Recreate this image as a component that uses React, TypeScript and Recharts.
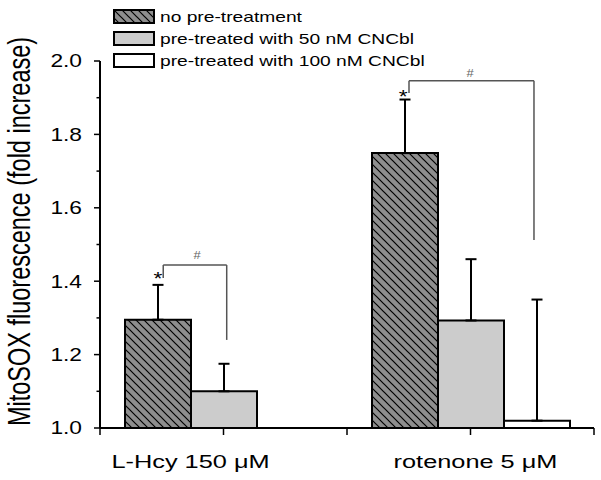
import React from 'react';
import { BarChart, Bar, XAxis, YAxis, ErrorBar, ReferenceLine, ReferenceDot } from 'recharts';

// ---- data ----
const categories = ['L-Hcy 150 \u03bcM', 'rotenone 5 \u03bcM'];
const categoryPos = [0.5, 1.5];
const seriesNames = ['no pre-treatment', 'pre-treated with 50 nM CNCbl', 'pre-treated with 100 nM CNCbl'];
const noPre = [1.295, 1.749];
const pre50 = [1.1, 1.293];
const pre100: (number | null)[] = [null, 1.02];
const noPreErr = [0.095, 0.146];
const pre50Err = [0.075, 0.167];
const pre100Err: (number | null)[] = [null, 0.33];
const yTicks = [1.0, 1.1, 1.2, 1.3, 1.4, 1.5, 1.6, 1.7, 1.8, 1.9, 2.0];
const xTicks = [0, 0.5, 1, 1.5, 2];
const yLabel = 'MitoSOX fluorescence (fold increase)';

// significance annotations (data units)
const bracketX1 = [0.256, 1.251];
const bracketX2 = [0.513, 1.757];
const bracketTop = [1.444, 1.946];
const bracketLeftEnd = [1.409, 1.913];
const bracketRightEnd = [1.24, 1.512];
const starX = [0.235, 1.227];
const starY = [1.417, 1.913];
const hashX = [0.393, 1.498];
const hashY = [1.469, 1.965];
const catLabelShift = [-33, 5];

const data = categories.map((name, i) => ({
  name,
  pos: categoryPos[i],
  noPre: noPre[i],
  pre50: pre50[i],
  pre100: pre100[i],
  noPreErr: noPreErr[i],
  pre50Err: pre50Err[i],
  pre100Err: pre100Err[i],
}));

const FONT = '"Liberation Sans", Arial, Helvetica, sans-serif';
const DARK = '#8e8e8e';
const LIGHT = '#cccccc';

const YTick = (props: any) => {
  const { x, y, payload } = props;
  const v = payload.value as number;
  const major = Math.round(v * 10) % 2 === 0;
  return (
    <g>
      <line x1={x - (major ? 6 : 3.5)} x2={x} y1={y} y2={y} stroke="#000" strokeWidth={1.5} />
      {major && (
        <g transform={`translate(${x - 18},${y + 6.3})`}>
          <g transform="scale(1.3,1)">
            <text x={0} y={0} textAnchor="end" fontSize={17.5} fontFamily={FONT} fill="#000">
              {v.toFixed(1)}
            </text>
          </g>
        </g>
      )}
    </g>
  );
};

const XTick = (props: any) => {
  const { x, y, payload } = props;
  const v = payload.value as number;
  const idx = categoryPos.findIndex((p) => Math.abs(p - v) < 1e-6);
  return (
    <g>
      <line x1={x} x2={x} y1={y} y2={y + 7} stroke="#000" strokeWidth={1.5} />
      {idx >= 0 && (
        <text
          transform={`translate(${x + catLabelShift[idx]},${y + 40}) scale(1.37,1)`}
          textAnchor="middle"
          fontSize={18.5}
          fontFamily={FONT}
          fill="#000"
        >
          {categories[idx]}
        </text>
      )}
    </g>
  );
};

const Star = (p: any) => (
  <text
    transform={`translate(${p.cx},${p.cy + 10.5}) scale(1.2,1)`}
    textAnchor="middle"
    fontSize={19}
    fontFamily={FONT}
    fill="#000"
  >
    *
  </text>
);

const Hash = (p: any) => (
  <text
    transform={`translate(${p.cx},${p.cy + 3.5}) scale(1.3,1)`}
    textAnchor="middle"
    fontSize={10}
    fontFamily={FONT}
    fill="#666"
  >
    #
  </text>
);

const hatchPath = 'M-2,-2 L10,10 M-2,6 L2,10 M6,-2 L10,2';

const HatchSwatch = ({ id }: { id: string }) => (
  <svg width={42} height={15} style={{ display: 'block' }}>
    <defs>
      <pattern id={id} patternUnits="userSpaceOnUse" width={8} height={8}>
        <rect width={8} height={8} fill={DARK} />
        <path d={hatchPath} stroke="#000" strokeWidth={1.2} />
      </pattern>
    </defs>
    <rect x={1} y={1} width={40} height={13} fill={`url(#${id})`} stroke="#000" strokeWidth={2} />
  </svg>
);

const PlainSwatch = ({ fill }: { fill: string }) => (
  <svg width={42} height={15} style={{ display: 'block' }}>
    <rect x={1} y={1} width={40} height={13} fill={fill} stroke="#000" strokeWidth={2} />
  </svg>
);

const legendRowTops = [9, 31, 53];

export default function App() {
  const swatches = [<HatchSwatch id="hatchLegend" />, <PlainSwatch fill={LIGHT} />, <PlainSwatch fill="#fff" />];
  return (
    <div style={{ position: 'absolute', left: 0, top: 0, width: 601, height: 480, background: '#fff' }}>
      <BarChart
        width={601}
        height={480}
        data={data}
        margin={{ top: 61, right: 7, bottom: 0, left: 0 }}
        barSize={66}
        barGap={0}
      >
        <defs>
          <pattern id="hatchBar" patternUnits="userSpaceOnUse" width={8} height={8}>
            <rect width={8} height={8} fill={DARK} />
            <path d={hatchPath} stroke="#000" strokeWidth={1.2} />
          </pattern>
        </defs>
        <XAxis
          dataKey="pos"
          type="number"
          domain={[0, 2]}
          allowDataOverflow
          ticks={xTicks}
          interval={0}
          tick={<XTick />}
          tickLine={false}
          tickSize={0}
          tickMargin={0}
          axisLine={{ stroke: '#000', strokeWidth: 2 }}
          height={52}
        />
        <YAxis
          domain={[1, 2]}
          allowDataOverflow
          ticks={yTicks}
          interval={0}
          tick={<YTick />}
          tickLine={false}
          tickSize={0}
          tickMargin={0}
          axisLine={{ stroke: '#000', strokeWidth: 2 }}
          width={100}
          label={{
            value: yLabel,
            content: () => (
              <text
                transform="translate(30,231.5) scale(1.3,1) rotate(-90)"
                textAnchor="middle"
                fontSize={23.5}
                fontFamily={FONT}
                fill="#000"
              >
                {yLabel}
              </text>
            ),
          }}
        />
        <Bar dataKey="noPre" fill="url(#hatchBar)" stroke="#000" strokeWidth={2} isAnimationActive={false}>
          <ErrorBar
            dataKey={(d: any) => (d.noPreErr == null ? null : [0, d.noPreErr])}
            width={5.5}
            stroke="#000"
            strokeWidth={2}
            direction="y"
            isAnimationActive={false}
          />
        </Bar>
        <Bar dataKey="pre50" fill={LIGHT} stroke="#000" strokeWidth={2} isAnimationActive={false}>
          <ErrorBar
            dataKey={(d: any) => (d.pre50Err == null ? null : [0, d.pre50Err])}
            width={5.5}
            stroke="#000"
            strokeWidth={2}
            direction="y"
            isAnimationActive={false}
          />
        </Bar>
        <Bar dataKey="pre100" fill="#fff" stroke="#000" strokeWidth={2} isAnimationActive={false}>
          <ErrorBar
            dataKey={(d: any) => (d.pre100Err == null ? null : [0, d.pre100Err])}
            width={5.5}
            stroke="#000"
            strokeWidth={2}
            direction="y"
            isAnimationActive={false}
          />
        </Bar>
        {categories.map((_, i) => (
          <ReferenceLine
            key={`bl${i}`}
            segment={[
              { x: bracketX1[i], y: bracketLeftEnd[i] },
              { x: bracketX1[i], y: bracketTop[i] },
            ]}
            stroke="#555"
            strokeWidth={1.5}
          />
        ))}
        {categories.map((_, i) => (
          <ReferenceLine
            key={`bt${i}`}
            segment={[
              { x: bracketX1[i], y: bracketTop[i] },
              { x: bracketX2[i], y: bracketTop[i] },
            ]}
            stroke="#555"
            strokeWidth={1.5}
          />
        ))}
        {categories.map((_, i) => (
          <ReferenceLine
            key={`br${i}`}
            segment={[
              { x: bracketX2[i], y: bracketTop[i] },
              { x: bracketX2[i], y: bracketRightEnd[i] },
            ]}
            stroke="#555"
            strokeWidth={1.5}
          />
        ))}
        {categories.map((_, i) => (
          <ReferenceDot key={`s${i}`} x={starX[i]} y={starY[i]} r={1} shape={<Star />} />
        ))}
        {categories.map((_, i) => (
          <ReferenceDot key={`h${i}`} x={hashX[i]} y={hashY[i]} r={1} shape={<Hash />} />
        ))}
      </BarChart>
      {seriesNames.map((name, i) => (
        <React.Fragment key={name}>
          <div style={{ position: 'absolute', left: 113, top: legendRowTops[i] }}>{swatches[i]}</div>
          <div
            style={{
              position: 'absolute',
              left: 160,
              top: legendRowTops[i] - 1,
              fontFamily: FONT,
              fontSize: 15,
              lineHeight: '18px',
              whiteSpace: 'nowrap',
              transform: 'scaleX(1.28)',
              transformOrigin: 'left center',
              color: '#000',
            }}
          >
            {name}
          </div>
        </React.Fragment>
      ))}
    </div>
  );
}
